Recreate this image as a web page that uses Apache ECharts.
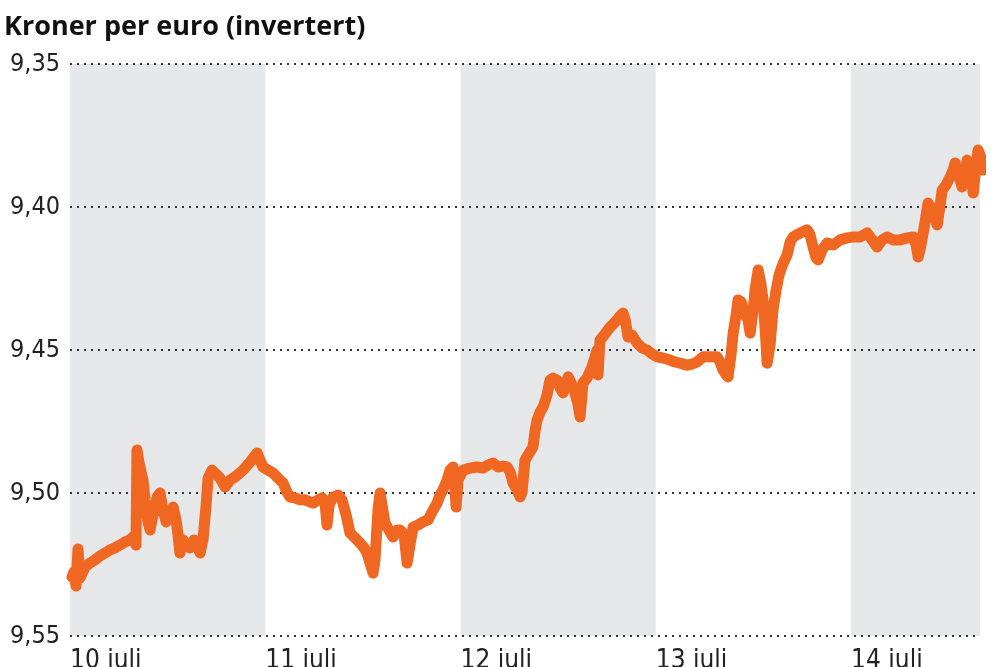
<!DOCTYPE html>
<html>
<head>
<meta charset="utf-8">
<script src="https://cdn.jsdelivr.net/npm/echarts@6/dist/echarts.min.js"></script>
<style>
  html, body { margin: 0; padding: 0; background: #fff; }
  #chart { width: 1000px; height: 667px; }
</style>
</head>
<body>
<div id="chart"></div>
<script>
// days shown along the bottom, x = days since 10 juli 00:00
const dayLabels = ["10 juli", "11 juli", "12 juli", "13 juli", "14 juli"];
const yTicks = [9.35, 9.4, 9.45, 9.5, 9.55];

// time (day fraction) and NOK per EUR
const times = [
  0.010, 0.020, 0.031, 0.041, 0.051, 0.077, 0.102, 0.128, 0.154, 0.179,
  0.205, 0.230, 0.256, 0.282, 0.307, 0.328, 0.338, 0.343, 0.353, 0.364,
  0.374, 0.384, 0.399, 0.410, 0.425, 0.446, 0.461, 0.476, 0.492, 0.512,
  0.528, 0.543, 0.553, 0.563, 0.579, 0.594, 0.615, 0.635, 0.650, 0.666,
  0.681, 0.697, 0.707, 0.727, 0.748, 0.768, 0.794, 0.819, 0.845, 0.886,
  0.922, 0.958, 0.973, 0.988, 1.014, 1.040, 1.065, 1.091, 1.111, 1.127,
  1.152, 1.178, 1.204, 1.229, 1.245, 1.270, 1.291, 1.306, 1.316, 1.327,
  1.347, 1.373, 1.393, 1.414, 1.434, 1.460, 1.485, 1.506, 1.521, 1.536,
  1.552, 1.562, 1.577, 1.588, 1.598, 1.613, 1.639, 1.654, 1.675, 1.690,
  1.711, 1.726, 1.741, 1.757, 1.782, 1.808, 1.834, 1.854, 1.880, 1.895,
  1.910, 1.931, 1.946, 1.962, 1.972, 1.977, 1.987, 2.013, 2.049, 2.084,
  2.115, 2.141, 2.166, 2.192, 2.218, 2.238, 2.254, 2.269, 2.289, 2.305,
  2.315, 2.330, 2.346, 2.371, 2.382, 2.392, 2.407, 2.423, 2.443, 2.458,
  2.474, 2.494, 2.510, 2.525, 2.540, 2.551, 2.571, 2.586, 2.602, 2.612,
  2.627, 2.648, 2.673, 2.689, 2.699, 2.704, 2.714, 2.735, 2.766, 2.786,
  2.802, 2.817, 2.832, 2.843, 2.858, 2.878, 2.904, 2.930, 2.955, 2.981,
  3.006, 3.037, 3.073, 3.099, 3.124, 3.160, 3.186, 3.211, 3.242, 3.278,
  3.314, 3.329, 3.344, 3.360, 3.370, 3.385, 3.396, 3.411, 3.421, 3.437,
  3.457, 3.472, 3.483, 3.498, 3.508, 3.524, 3.539, 3.549, 3.560, 3.570,
  3.585, 3.600, 3.616, 3.631, 3.652, 3.672, 3.688, 3.703, 3.739, 3.775,
  3.790, 3.805, 3.821, 3.831, 3.851, 3.877, 3.908, 3.944, 3.980, 4.010,
  4.046, 4.082, 4.108, 4.133, 4.159, 4.184, 4.215, 4.251, 4.287, 4.318,
  4.333, 4.343, 4.353, 4.369, 4.384, 4.394, 4.415, 4.430, 4.441, 4.456,
  4.466, 4.486, 4.507, 4.522, 4.533, 4.548, 4.568, 4.579, 4.594, 4.609,
  4.625, 4.635, 4.650, 4.666, 4.676
];
const rates = [
  9.5294, 9.5276, 9.5325, 9.5196, 9.5297, 9.5259, 9.5245, 9.5234, 9.5220, 9.5210,
  9.5199, 9.5192, 9.5182, 9.5171, 9.5164, 9.5150, 9.5182, 9.4850, 9.4892, 9.4927,
  9.4955, 9.5024, 9.5101, 9.5129, 9.5077, 9.5014, 9.5000, 9.5059, 9.5101, 9.5066,
  9.5049, 9.5094, 9.5147, 9.5210, 9.5164, 9.5182, 9.5192, 9.5164, 9.5182, 9.5210,
  9.5164, 9.5042, 9.4948, 9.4920, 9.4934, 9.4948, 9.4979, 9.4955, 9.4944, 9.4920,
  9.4892, 9.4860, 9.4885, 9.4909, 9.4920, 9.4930, 9.4948, 9.4965, 9.4997, 9.5014,
  9.5017, 9.5024, 9.5024, 9.5031, 9.5035, 9.5024, 9.5017, 9.5035, 9.5112, 9.5042,
  9.5014, 9.5007, 9.5024, 9.5077, 9.5140, 9.5157, 9.5175, 9.5192, 9.5210, 9.5245,
  9.5280, 9.5234, 9.5059, 9.5000, 9.5042, 9.5105, 9.5136, 9.5154, 9.5129, 9.5129,
  9.5147, 9.5245, 9.5182, 9.5119, 9.5112, 9.5101, 9.5094, 9.5066, 9.5035, 9.5007,
  9.4989, 9.4955, 9.4920, 9.4909, 9.4989, 9.5049, 9.4955, 9.4920, 9.4913, 9.4909,
  9.4913, 9.4902, 9.4895, 9.4909, 9.4906, 9.4909, 9.4927, 9.4965, 9.4989, 9.5014,
  9.4997, 9.4885, 9.4867, 9.4839, 9.4780, 9.4745, 9.4717, 9.4699, 9.4657, 9.4605,
  9.4598, 9.4605, 9.4633, 9.4650, 9.4622, 9.4594, 9.4622, 9.4650, 9.4692, 9.4734,
  9.4615, 9.4598, 9.4559, 9.4524, 9.4500, 9.4587, 9.4465, 9.4448, 9.4420, 9.4406,
  9.4395, 9.4381, 9.4371, 9.4395, 9.4455, 9.4448, 9.4476, 9.4493, 9.4500, 9.4514,
  9.4524, 9.4528, 9.4535, 9.4542, 9.4546, 9.4553, 9.4549, 9.4542, 9.4524, 9.4524,
  9.4524, 9.4542, 9.4570, 9.4587, 9.4594, 9.4517, 9.4441, 9.4378, 9.4325, 9.4332,
  9.4371, 9.4395, 9.4441, 9.4360, 9.4290, 9.4220, 9.4273, 9.4325, 9.4430, 9.4546,
  9.4483, 9.4360, 9.4290, 9.4238, 9.4196, 9.4168, 9.4122, 9.4105, 9.4091, 9.4080,
  9.4098, 9.4140, 9.4178, 9.4185, 9.4150, 9.4126, 9.4133, 9.4115, 9.4108, 9.4105,
  9.4105, 9.4091, 9.4115, 9.4140, 9.4115, 9.4105, 9.4115, 9.4115, 9.4108, 9.4105,
  9.4133, 9.4175, 9.4150, 9.4091, 9.4028, 9.3986, 9.4010, 9.4045, 9.4063, 9.3993,
  9.3941, 9.3923, 9.3895, 9.3871, 9.3846, 9.3878, 9.3930, 9.3906, 9.3836, 9.3864,
  9.3951, 9.3888, 9.3801, 9.3829, 9.3871
];

const xMax = 4.66;
const chart = echarts.init(document.getElementById("chart"));
const data = times.map((t, i) => [t, rates[i]]);
const labelFont = "DejaVu Sans Condensed, Liberation Sans Narrow, sans-serif";

chart.setOption({
  animation: false,
  title: {
    text: "Kroner per euro (invertert)",
    left: 4,
    top: 14,
    padding: 0,
    textStyle: {
      fontFamily: "Open Sans",
      fontWeight: "bold",
      fontSize: 27,
      color: "#111",
    },
  },
  grid: { left: 70, right: 20, top: 64, bottom: 31, outerBoundsMode: "none" },
  xAxis: {
    type: "value",
    min: 0,
    max: xMax,
    interval: 1,
    z: 0,
    axisLine: { show: false },
    axisTick: { show: false },
    splitLine: { show: false },
    splitArea: {
      show: true,
      areaStyle: { color: ["#e6e7e8", "rgba(255,255,255,0)"] },
    },
    axisLabel: {
      align: "left",
      margin: 12,
      fontFamily: labelFont,
      fontSize: 26,
      color: "#222",
      formatter: (v) => (Number.isInteger(v) ? dayLabels[v] || "" : ""),
    },
  },
  yAxis: {
    type: "value",
    inverse: true,
    min: yTicks[0],
    max: yTicks[yTicks.length - 1],
    interval: 0.05,
    z: 1,
    axisLine: { show: false },
    axisTick: { show: false },
    splitLine: {
      show: true,
      lineStyle: { color: "#333", width: 2, type: [2, 5] },
    },
    axisLabel: {
      margin: 10,
      fontFamily: labelFont,
      fontSize: 25,
      color: "#222",
      verticalAlign: "middle",
      formatter: (v) => v.toFixed(2).replace(".", ","),
    },
  },
  series: [
    {
      type: "line",
      data: data,
      z: 3,
      showSymbol: false,
      clip: false,
      lineStyle: { color: "#f06721", width: 11, join: "round", cap: "round" },
    },
  ],
});
</script>
</body>
</html>
